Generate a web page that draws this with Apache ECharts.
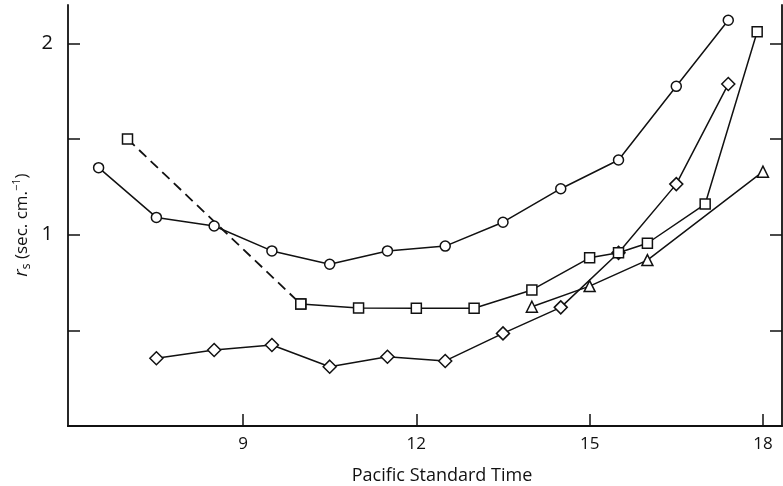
<!DOCTYPE html>
<html>
<head>
<meta charset="utf-8">
<script src="https://cdn.jsdelivr.net/npm/echarts@6/dist/echarts.min.js"></script>
<style>
html,body{margin:0;padding:0;background:#fff;}
#c{width:783px;height:486px;}
</style>
</head>
<body>
<div id="c"></div>
<script>
// Data
var circleT = [6.5, 7.5, 8.5, 9.5, 10.5, 11.5, 12.5, 13.5, 14.5, 15.5, 16.5, 17.4];
var circleV = [1.35, 1.09, 1.045, 0.915, 0.845, 0.915, 0.94, 1.065, 1.24, 1.39, 1.775, 2.12];

var squareDashT = [7, 10];
var squareDashV = [1.5, 0.637];

var squareT = [10, 11, 12, 13, 14, 15, 15.5, 16, 17, 17.9];
var squareV = [0.637, 0.617, 0.615, 0.615, 0.711, 0.879, 0.905, 0.955, 1.16, 2.06];

var diamondT = [7.5, 8.5, 9.5, 10.5, 11.5, 12.5, 13.5, 14.5, 15.5, 16.5, 17.4];
var diamondV = [0.354, 0.397, 0.423, 0.31, 0.362, 0.34, 0.484, 0.62, 0.905, 1.264, 1.787];

var triangleT = [14, 15, 16, 18];
var triangleV = [0.623, 0.731, 0.867, 1.329];

var xTicks = [9, 12, 15, 18];
var yTicks = [0.5, 1, 1.5, 2];
var yLabels = [1, 2];

var xTitle = 'Pacific Standard Time';
var yTitle = '{r|r}{s|s}{t| (sec. cm.}{u|−1}{t|)}';

function pairs(t, v) { return t.map(function (x, i) { return [x, v[i]]; }); }

var INK = '#111';
var FONT = 'Open Sans';

function lineSeries(t, v, symbol, size, dashed) {
  return {
    type: 'line',
    data: pairs(t, v),
    symbol: symbol,
    symbolSize: size,
    showAllSymbol: true,
    silent: true,
    animation: false,
    lineStyle: { color: INK, width: dashed ? 1.8 : 1.5, type: dashed ? [10, 6] : 'solid' },
    itemStyle: { color: '#fff', borderColor: INK, borderWidth: 1.5 }
  };
}

var chart = echarts.init(document.getElementById('c'));
chart.setOption({
  backgroundColor: '#fff',
  animation: false,
  grid: { left: 68, right: 1, top: 5, bottom: 60, containLabel: false, outerBoundsMode: 'none' },
  graphic: [{
    type: 'text', x: 22, y: 225, rotation: Math.PI / 2, silent: true,
    style: {
      text: yTitle, align: 'center', verticalAlign: 'middle', fill: INK,
      fontFamily: FONT, fontSize: 17,
      rich: {
        r: { fontStyle: 'italic', fontSize: 19, fontFamily: FONT, fill: INK },
        s: { fontSize: 12, fontFamily: FONT, fill: INK, verticalAlign: 'bottom', padding: [9, 0, 0, 0] },
        t: { fontSize: 17, fontFamily: FONT, fill: INK },
        u: { fontSize: 11, fontFamily: FONT, fill: INK, verticalAlign: 'top', padding: [0, 0, 9, 0] }
      }
    }
  }],
  xAxis: [{
    type: 'value', min: 5.97, max: 18.33,
    splitLine: { show: false },
    axisLine: { lineStyle: { color: INK, width: 1.8 } },
    axisTick: { inside: true, length: 12, customValues: xTicks, lineStyle: { color: INK, width: 1.5 } },
    axisLabel: { customValues: xTicks, color: INK, fontFamily: FONT, fontSize: 17, margin: 10 },
    name: xTitle, nameLocation: 'middle', nameGap: 41,
    nameTextStyle: { color: INK, fontFamily: FONT, fontSize: 18, padding: [0, 0, 0, 34] }
  }, {
    type: 'value', min: 5.97, max: 18.33, position: 'top',
    splitLine: { show: false },
    axisLine: { lineStyle: { color: INK, width: 1.8 } },
    axisTick: { show: false }, axisLabel: { show: false }
  }],
  yAxis: [{
    type: 'value', min: 0, max: 2.2,
    splitLine: { show: false },
    axisLine: { lineStyle: { color: INK, width: 1.8 } },
    axisTick: { inside: true, length: 12, customValues: yTicks, lineStyle: { color: INK, width: 1.5 } },
    axisLabel: { customValues: yLabels, color: INK, fontFamily: FONT, fontSize: 20, margin: 15 }
  }, {
    type: 'value', min: 0, max: 2.2, position: 'right',
    splitLine: { show: false },
    axisLine: { show: true, lineStyle: { color: INK, width: 1.8 } },
    axisTick: { inside: true, length: 12, customValues: yTicks, lineStyle: { color: INK, width: 1.5 } },
    axisLabel: { show: false }
  }],
  series: [
    lineSeries(squareDashT, squareDashV, 'rect', 10, true),
    lineSeries(triangleT, triangleV, 'triangle', 11, false),
    lineSeries(diamondT, diamondV, 'diamond', 13, false),
    lineSeries(squareT, squareV, 'rect', 10, false),
    lineSeries(circleT, circleV, 'circle', 10, false)
  ]
});
</script>
</body>
</html>
